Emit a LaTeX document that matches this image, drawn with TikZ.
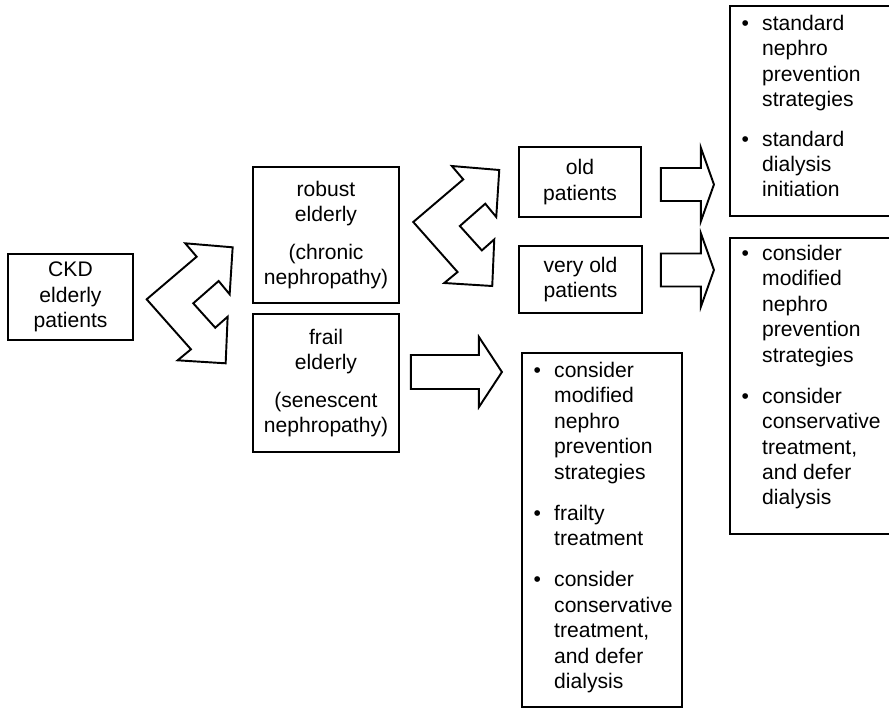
\documentclass[tikz,border=0pt]{standalone}
\usepackage{fontspec}
\setmainfont{Liberation Sans}
\usetikzlibrary{calc}

\tikzset{
  box/.style={draw, line width=1.1pt, align=center, inner sep=0pt},
  list/.style={inner sep=0pt, anchor=base west},
  arr/.style={draw, line width=1.1pt, fill=white},
  fork/.pic={
    \draw[arr] (0,0) -- (50,-42.6) -- (38.6,-56) -- (86,-52) -- (83,-5) -- (72,-18.3)
      -- (46.6,4) -- (68.6,28.4) -- (81,17.4) -- (79,64) -- (31,61) -- (44.3,50) -- cycle;
  },
  slimarrow/.pic={
    \draw[arr] (0,-16.5) -- (40,-16.5) -- (40,-36.5) -- (53,0) -- (40,36.5) -- (40,16.5) -- (0,16.5) -- cycle;
  },
  widearrow/.pic={
    \draw[arr] (0,-17) -- (68,-17) -- (68,-35) -- (91,0) -- (68,35) -- (68,17) -- (0,17) -- cycle;
  }
}

\begin{document}
\begin{tikzpicture}[x=0.02cm, y=-0.02cm,
  every node/.style={font=\fontsize{12}{14.45}\selectfont}]
  \useasboundingbox (0,0) rectangle (889,708);
  \clip (0,0) rectangle (889,708);

  % patient groups
  \node[box, minimum width=2.5cm, minimum height=1.72cm] (ckd) at (70.5,297) {CKD\\elderly\\patients};
  \node[box, minimum width=2.92cm, minimum height=2.72cm] (robust) at (326,235) {robust\\elderly\\[7pt](chronic\\nephropathy)};
  \node[box, minimum width=2.92cm, minimum height=2.76cm] (frail) at (326,383) {frail\\elderly\\[7pt](senescent\\nephropathy)};
  \node[box, minimum width=2.44cm, minimum height=1.4cm] (old) at (580,182) {old\\patients};
  \node[box, minimum width=2.46cm, minimum height=1.34cm] (vold) at (580.5,279.5) {very old\\patients};

  % recommendations
  \node[box, anchor=north west, minimum width=3.6cm, minimum height=4.2cm] (std) at (729,5) {};
  \node[box, anchor=north west, minimum width=3.6cm, minimum height=5.92cm] (mod) at (729,237) {};
  \node[box, anchor=north west, minimum width=3.2cm, minimum height=7.08cm] (frl) at (521,352) {};

  \node[list] (stdtxt) at ($(std.north west)+(12.3,25.5)$) {\begin{tabular}[t]{@{}l@{\hspace{7.5pt}}l@{}}
    \textbullet & standard\\ & nephro\\ & prevention\\ & strategies\\[8pt]
    \textbullet & standard\\ & dialysis\\ & initiation
  \end{tabular}};
  \node[list] (modtxt) at ($(mod.north west)+(12.3,23.5)$) {\begin{tabular}[t]{@{}l@{\hspace{7.5pt}}l@{}}
    \textbullet & consider\\ & modified\\ & nephro\\ & prevention\\ & strategies\\[9pt]
    \textbullet & consider\\ & conservative\\ & treatment,\\ & and defer\\ & dialysis
  \end{tabular}};
  \node[list] (frltxt) at ($(frl.north west)+(12.3,25.5)$) {\begin{tabular}[t]{@{}l@{\hspace{7.5pt}}l@{}}
    \textbullet & consider\\ & modified\\ & nephro\\ & prevention\\ & strategies\\[9pt]
    \textbullet & frailty\\ & treatment\\[9pt]
    \textbullet & consider\\ & conservative\\ & treatment,\\ & and defer\\ & dialysis
  \end{tabular}};

  % arrows
  \pic at ($(ckd.east)+(12.7,2.3)$) {fork};
  \pic at ($(robust.east)+(13.3,-13)$) {fork};
  \pic at ($(old.east)+(19,2.5)$) {slimarrow};
  \pic at ($(vold.east)+(18,-9.5)$) {slimarrow};
  \pic at ($(frail.east)+(11,-11)$) {widearrow};
\end{tikzpicture}
\end{document}
